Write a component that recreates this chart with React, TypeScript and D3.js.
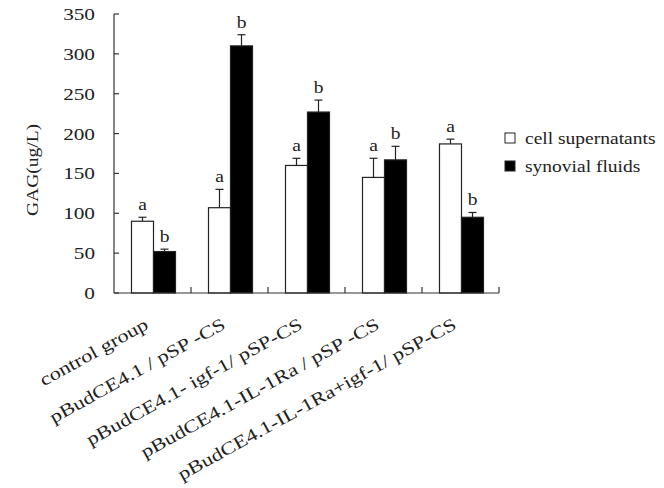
import React from "react";
import * as d3 from "d3";

const categories = [
  "control group",
  "pBudCE4.1 / pSP -CS",
  "pBudCE4.1- igf-1/ pSP-CS",
  "pBudCE4.1-IL-1Ra / pSP -CS",
  "pBudCE4.1-IL-1Ra+igf-1/ pSP-CS",
];
const seriesNames = ["cell supernatants", "synovial fluids"];
const cellValues = [90, 107, 160, 145, 187];
const cellErrors = [5, 23, 9, 24, 6];
const cellLetters = ["a", "a", "a", "a", "a"];
const synValues = [52, 310, 227, 167, 95];
const synErrors = [3, 14, 15, 17, 6];
const synLetters = ["b", "b", "b", "b", "b"];
const yTicks = [0, 50, 100, 150, 200, 250, 300, 350];

const W = 664;
const H = 488;
const left = 114;
const right = 499;
const top = 14;
const bottom = 293;
const font = "'Liberation Serif', 'Times New Roman', serif";
const SX = 1.22;

export default function App() {
  const x = d3.scaleBand<string>().domain(categories).range([left, right]).paddingInner(0).paddingOuter(0);
  const y = d3.scaleLinear().domain([0, 350]).range([bottom, top]);
  const bw = 22;
  const series = [
    { vals: cellValues, errs: cellErrors, letters: cellLetters, fill: "#fff", off: -bw },
    { vals: synValues, errs: synErrors, letters: synLetters, fill: "#000", off: 0 },
  ];
  const boundaries = categories.map((c) => (x(c) as number) + x.bandwidth());
  return (
    <svg width={W} height={H} style={{ position: "absolute", left: 0, top: 0, background: "#fff" }}>
      <rect x={0} y={0} width={W} height={H} fill="#fff" />
      {categories.map((c, i) => {
        const cx = (x(c) as number) + x.bandwidth() / 2 + 1;
        return series.map((s, k) => {
          const bx = cx + s.off;
          const yv = y(s.vals[i]);
          const ye = y(s.vals[i] + s.errs[i]);
          const mid = bx + bw / 2;
          return (
            <g key={c + k}>
              <line x1={mid} x2={mid} y1={yv} y2={ye} stroke="#222" strokeWidth={1.2} />
              <line x1={mid - 4} x2={mid + 4} y1={ye} y2={ye} stroke="#222" strokeWidth={1.2} />
              <rect x={bx} y={yv} width={bw} height={bottom - yv} fill={s.fill} stroke="#222" strokeWidth={1.2} />
              <g transform={`translate(${mid},${ye - 7}) scale(${SX},1)`}>
                <text x={0} y={0} textAnchor="middle" fontSize={16} fill="#222" fontFamily={font}>
                  {s.letters[i]}
                </text>
              </g>
            </g>
          );
        });
      })}
      <line x1={left} x2={left} y1={top} y2={bottom} stroke="#333" strokeWidth={1.2} />
      <line x1={left} x2={right} y1={bottom} y2={bottom} stroke="#333" strokeWidth={1.2} />
      {yTicks.map((t) => (
        <g key={t}>
          <line x1={left} x2={left + 5} y1={y(t)} y2={y(t)} stroke="#333" strokeWidth={1.2} />
          <g transform={`translate(95,${y(t)}) scale(1.25,1)`}>
            <text x={0} y={0} dy="0.35em" textAnchor="end" fontSize={17} fill="#222" fontFamily={font}>
              {t}
            </text>
          </g>
        </g>
      ))}
      {boundaries.map((b, i) => (
        <line key={i} x1={b} x2={b} y1={bottom} y2={bottom - 6} stroke="#333" strokeWidth={1.2} />
      ))}
      <g transform={`translate(38,170) rotate(-90) scale(${SX},1)`}>
        <text x={0} y={0} textAnchor="middle" fontSize={16} fill="#222" fontFamily={font}>
          GAG(ug/L)
        </text>
      </g>
      {categories.map((c) => {
        const cx = (x(c) as number) + x.bandwidth() / 2 - 3;
        return (
          <g key={c} transform={`translate(${cx},${bottom + 35}) rotate(-29) scale(1.24,1)`}>
            <text x={0} y={0} textAnchor="end" fontSize={18} fill="#222" fontFamily={font}>
              {c}
            </text>
          </g>
        );
      })}
      {seriesNames.map((n, i) => (
        <g key={n} transform={`translate(505,${138 + i * 28})`}>
          <rect x={0} y={-5} width={10} height={10} fill={i === 0 ? "#fff" : "#000"} stroke="#222" strokeWidth={1} />
          <g transform={`translate(20,0) scale(${SX},1)`}>
            <text x={0} y={0} dy="0.35em" fontSize={16} fill="#222" fontFamily={font}>
              {n}
            </text>
          </g>
        </g>
      ))}
    </svg>
  );
}
